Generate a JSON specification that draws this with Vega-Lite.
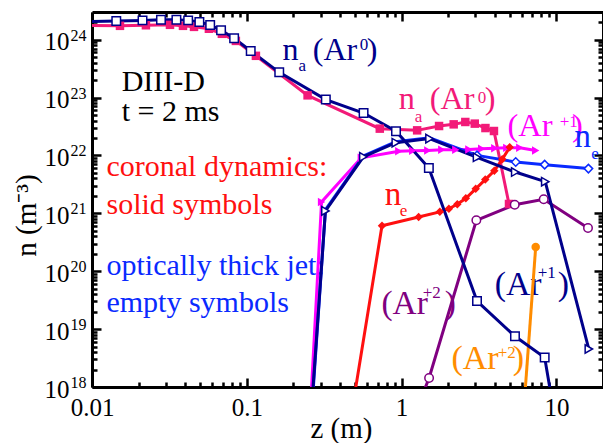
{
  "$schema": "https://vega.github.io/schema/vega-lite/v6.json",
  "width": 511,
  "height": 375,
  "autosize": {"type": "none"},
  "padding": {"left": 92, "top": 12, "right": 0, "bottom": 56},
  "background": "white",
  "config": {
    "font": "'Liberation Serif', 'Times New Roman', Times, serif",
    "view": {"stroke": null},
    "text": {"font": "'Liberation Serif', 'Times New Roman', Times, serif"},
    "axis": {
      "domainColor": "black", "domainWidth": 3,
      "tickColor": "black", "tickWidth": 2.5, "grid": false,
      "labelFont": "'Liberation Serif', 'Times New Roman', Times, serif", "labelFontSize": 25, "labelColor": "black",
      "labelFlush": false, "labelOverlap": false, "labelBound": false,
      "titleFont": "'Liberation Serif', 'Times New Roman', Times, serif", "titleFontSize": 29, "titleFontWeight": "normal", "titleColor": "black",
      "zindex": 1
    }
  },
  "datasets": {
    "pts": [
      {"s": "na_cd", "z": 0.009, "n": 1.75e24},
      {"s": "na_cd", "z": 0.01516, "n": 1.73e24},
      {"s": "na_cd", "z": 0.0223, "n": 1.77e24},
      {"s": "na_cd", "z": 0.0319, "n": 1.80e24},
      {"s": "na_cd", "z": 0.0387, "n": 1.73e24},
      {"s": "na_cd", "z": 0.0456, "n": 1.66e24},
      {"s": "na_cd", "z": 0.0569, "n": 1.54e24},
      {"s": "na_cd", "z": 0.069, "n": 1.26e24},
      {"s": "na_cd", "z": 0.085, "n": 9.5e23},
      {"s": "na_cd", "z": 0.1145, "n": 5.25e23},
      {"s": "na_cd", "z": 0.247, "n": 1.09e23},
      {"s": "na_cd", "z": 0.723, "n": 2.90e22},
      {"s": "na_cd", "z": 1.26, "n": 2.71e22},
      {"s": "na_cd", "z": 1.746, "n": 3.22e22},
      {"s": "na_cd", "z": 2.17, "n": 3.44e22},
      {"s": "na_cd", "z": 2.58, "n": 3.78e22},
      {"s": "na_cd", "z": 2.97, "n": 3.54e22},
      {"s": "na_cd", "z": 3.48, "n": 2.97e22},
      {"s": "na_cd", "z": 3.95, "n": 2.64e22},
      {"s": "na_cd", "z": 4.94, "n": 1.45e21},

      {"s": "ar1_cd", "z": 0.252, "n": 1.4e17},
      {"s": "ar1_cd", "z": 0.304, "n": 1.57e21},
      {"s": "ar1_cd", "z": 0.549, "n": 9.1e21},
      {"s": "ar1_cd", "z": 0.959, "n": 1.18e22},
      {"s": "ar1_cd", "z": 1.18, "n": 1.20e22},
      {"s": "ar1_cd", "z": 1.476, "n": 1.22e22},
      {"s": "ar1_cd", "z": 1.818, "n": 1.25e22},
      {"s": "ar1_cd", "z": 2.24, "n": 1.25e22},
      {"s": "ar1_cd", "z": 2.72, "n": 1.27e22},
      {"s": "ar1_cd", "z": 3.29, "n": 1.30e22},
      {"s": "ar1_cd", "z": 4.0, "n": 1.33e22},
      {"s": "ar1_cd", "z": 4.78, "n": 1.35e22},
      {"s": "ar1_cd", "z": 5.8, "n": 1.36e22},
      {"s": "ar1_cd", "z": 7.35, "n": 1.22e22},

      {"s": "ne_cd", "z": 0.463, "n": 2.3e17},
      {"s": "ne_cd", "z": 0.747, "n": 6.08e20},
      {"s": "ne_cd", "z": 1.288, "n": 8.63e20},
      {"s": "ne_cd", "z": 1.765, "n": 1.06e21},
      {"s": "ne_cd", "z": 2.02, "n": 1.20e21},
      {"s": "ne_cd", "z": 2.29, "n": 1.43e21},
      {"s": "ne_cd", "z": 2.6, "n": 1.82e21},
      {"s": "ne_cd", "z": 3.01, "n": 2.65e21},
      {"s": "ne_cd", "z": 3.47, "n": 3.82e21},
      {"s": "ne_cd", "z": 3.97, "n": 5.42e21},
      {"s": "ne_cd", "z": 4.47, "n": 8.57e21},
      {"s": "ne_cd", "z": 4.99, "n": 1.38e22},

      {"s": "ar2_cd", "z": 5.97, "n": 1.35e17},
      {"s": "ar2_cd", "z": 7.35, "n": 2.62e20},

      {"s": "ar2_jet", "z": 1.31, "n": 5.6e17},
      {"s": "ar2_jet", "z": 1.505, "n": 1.43e18},
      {"s": "ar2_jet", "z": 3.04, "n": 7.57e20},
      {"s": "ar2_jet", "z": 5.38, "n": 1.41e21},
      {"s": "ar2_jet", "z": 8.28, "n": 1.75e21},
      {"s": "ar2_jet", "z": 16.0, "n": 5.57e20},

      {"s": "ne_jet", "z": 0.257, "n": 1.6e17},
      {"s": "ne_jet", "z": 0.322, "n": 1.15e21},
      {"s": "ne_jet", "z": 0.566, "n": 9.8e21},
      {"s": "ne_jet", "z": 0.917, "n": 1.72e22},
      {"s": "ne_jet", "z": 1.514, "n": 2.02e22},
      {"s": "ne_jet", "z": 3.07, "n": 1.0e22},
      {"s": "ne_jet", "z": 5.46, "n": 7.69e21},
      {"s": "ne_jet", "z": 8.4, "n": 6.93e21},
      {"s": "ne_jet", "z": 16.1, "n": 5.92e21},

      {"s": "ar1_jet", "z": 0.255, "n": 1.5e17},
      {"s": "ar1_jet", "z": 0.322, "n": 1.10e21},
      {"s": "ar1_jet", "z": 0.566, "n": 9.46e21},
      {"s": "ar1_jet", "z": 0.917, "n": 1.66e22},
      {"s": "ar1_jet", "z": 1.514, "n": 1.95e22},
      {"s": "ar1_jet", "z": 3.07, "n": 9.27e21},
      {"s": "ar1_jet", "z": 5.42, "n": 5.16e21},
      {"s": "ar1_jet", "z": 8.47, "n": 3.52e21},
      {"s": "ar1_jet", "z": 16.2, "n": 4.53e18},

      {"s": "na_jet", "z": 0.009, "n": 2.05e24},
      {"s": "na_jet", "z": 0.01435, "n": 2.09e24},
      {"s": "na_jet", "z": 0.0212, "n": 2.15e24},
      {"s": "na_jet", "z": 0.0279, "n": 2.21e24},
      {"s": "na_jet", "z": 0.0351, "n": 2.21e24},
      {"s": "na_jet", "z": 0.0418, "n": 2.15e24},
      {"s": "na_jet", "z": 0.0494, "n": 2.01e24},
      {"s": "na_jet", "z": 0.058, "n": 1.79e24},
      {"s": "na_jet", "z": 0.0682, "n": 1.45e24},
      {"s": "na_jet", "z": 0.0828, "n": 1.06e24},
      {"s": "na_jet", "z": 0.106, "n": 6.35e23},
      {"s": "na_jet", "z": 0.162, "n": 2.72e23},
      {"s": "na_jet", "z": 0.324, "n": 9.2e22},
      {"s": "na_jet", "z": 0.568, "n": 5.4e22},
      {"s": "na_jet", "z": 0.92, "n": 2.61e22},
      {"s": "na_jet", "z": 1.5, "n": 6.05e21},
      {"s": "na_jet", "z": 3.07, "n": 3.05e19},
      {"s": "na_jet", "z": 5.4, "n": 7.5e18},
      {"s": "na_jet", "z": 8.4, "n": 3.22e18},
      {"s": "na_jet", "z": 10.0, "n": 2.1e17}
    ],
    "lab": [
      {"s": "info", "r": "note", "z": 0.01555, "n": 1.29e23, "t": "DIII-D"},
      {"s": "info", "r": "note", "z": 0.01555, "n": 3.93e22, "t": "t = 2 ms"},
      {"s": "ne_cd", "r": "note", "z": 0.0124, "n": 4.45e21, "t": "coronal dynamics:"},
      {"s": "ne_cd", "r": "note", "z": 0.0124, "n": 9.89e20, "t": "solid symbols"},
      {"s": "ne_jet", "r": "note", "z": 0.0124, "n": 8.49e19, "t": "optically thick jet:"},
      {"s": "ne_jet", "r": "note", "z": 0.0124, "n": 1.97e19, "t": "empty symbols"},

      {"s": "na_jet", "r": "name", "z": 0.1702, "n": 4.52e23, "t": "n"},
      {"s": "na_jet", "r": "script", "z": 0.2154, "n": 2.84e23, "t": "a"},
      {"s": "na_jet", "r": "name", "z": 0.267, "n": 4.52e23, "t": "(Ar"},
      {"s": "na_jet", "r": "script", "z": 0.537, "n": 6.53e23, "t": "0"},
      {"s": "na_jet", "r": "name", "z": 0.596, "n": 4.52e23, "t": ")"},

      {"s": "na_cd", "r": "name", "z": 0.959, "n": 6.43e22, "t": "n"},
      {"s": "na_cd", "r": "script", "z": 1.217, "n": 3.78e22, "t": "a"},
      {"s": "na_cd", "r": "name", "z": 1.521, "n": 6.43e22, "t": "(Ar"},
      {"s": "na_cd", "r": "script", "z": 3.10, "n": 7.94e22, "t": "0"},
      {"s": "na_cd", "r": "name", "z": 3.45, "n": 6.43e22, "t": ")"},

      {"s": "ar1_cd", "r": "name", "z": 4.83, "n": 2.18e22, "t": "(Ar"},
      {"s": "ar1_cd", "r": "script", "z": 10.5, "n": 3.10e22, "t": "+1"},
      {"s": "ar1_cd", "r": "name", "z": 12.6, "n": 2.18e22, "t": ")"},

      {"s": "ne_jet", "r": "name", "z": 13.1, "n": 1.40e22, "t": "n"},
      {"s": "ne_jet", "r": "script", "z": 16.77, "n": 8.81e21, "t": "e"},

      {"s": "ne_cd", "r": "name", "z": 0.779, "n": 1.41e21, "t": "n"},
      {"s": "ne_cd", "r": "script", "z": 0.974, "n": 8.87e20, "t": "e"},

      {"s": "ar2_jet", "r": "name", "z": 0.741, "n": 1.85e19, "t": "(Ar"},
      {"s": "ar2_jet", "r": "script", "z": 1.37, "n": 3.40e19, "t": "+2"},
      {"s": "ar2_jet", "r": "name", "z": 1.9, "n": 1.85e19, "t": ")"},

      {"s": "ar1_jet", "r": "name", "z": 4.0, "n": 3.84e19, "t": "(Ar"},
      {"s": "ar1_jet", "r": "script", "z": 7.57, "n": 7.54e19, "t": "+1"},
      {"s": "ar1_jet", "r": "name", "z": 10.2, "n": 3.84e19, "t": ")"},

      {"s": "ar2_cd", "r": "name", "z": 2.10, "n": 2.08e18, "t": "(Ar"},
      {"s": "ar2_cd", "r": "script", "z": 4.18, "n": 3.13e18, "t": "+2"},
      {"s": "ar2_cd", "r": "name", "z": 5.22, "n": 2.08e18, "t": ")"}
    ]
  },
  "layer": [
    {
      "data": {"name": "lab"},
      "transform": [{"filter": "datum.r == 'note'"}],
      "mark": {"type": "text", "align": "left", "baseline": "alphabetic", "fontSize": 30},
      "encoding": {
        "x": {"field": "z", "type": "quantitative", "scale": {"type": "log", "domain": [0.01, 20], "nice": false},
              "axis": {"orient": "top", "values": [0.02,0.03,0.04,0.05,0.06,0.07,0.08,0.09,0.2,0.3,0.4,0.5,0.6,0.7,0.8,0.9,2,3,4,5,6,7,8,9], "labels": false, "domain": false, "tickSize": -5, "title": null}},
        "y": {"field": "n", "type": "quantitative", "scale": {"type": "log", "domain": [1e18, 3e24], "nice": false},
              "axis": {"orient": "right", "values": [1e18,1e19,1e20,1e21,1e22,1e23,1e24], "labels": false, "domain": true, "tickSize": -9, "title": null}},
        "text": {"field": "t"},
        "color": {"field": "s", "type": "nominal", "legend": null,
                  "scale": {"domain": ["na_cd","ar1_cd","ne_cd","ar2_cd","ar2_jet","ne_jet","ar1_jet","na_jet","info"],
                            "range": ["#f21a78","#ff00ff","#ff1010","#ff8c00","#800080","#0a2aff","#00008b","#00008b","#000000"]}}
      }
    },
    {
      "data": {"name": "lab"},
      "transform": [{"filter": "datum.r == 'name'"}],
      "mark": {"type": "text", "align": "left", "baseline": "alphabetic"},
      "encoding": {
        "x": {"field": "z", "type": "quantitative", "scale": {"type": "log", "domain": [0.01, 20], "nice": false},
              "axis": {"orient": "top", "values": [0.01, 0.1, 1, 10], "labels": false, "domain": true, "tickSize": -9, "title": null}},
        "y": {"field": "n", "type": "quantitative", "scale": {"type": "log", "domain": [1e18, 3e24], "nice": false},
              "axis": {"orient": "right", "values": [2e18,3e18,4e18,5e18,6e18,7e18,8e18,9e18,2e19,3e19,4e19,5e19,6e19,7e19,8e19,9e19,2e20,3e20,4e20,5e20,6e20,7e20,8e20,9e20,2e21,3e21,4e21,5e21,6e21,7e21,8e21,9e21,2e22,3e22,4e22,5e22,6e22,7e22,8e22,9e22,2e23,3e23,4e23,5e23,6e23,7e23,8e23,9e23,2e24], "labels": false, "domain": false, "tickSize": -5, "title": null}},
        "text": {"field": "t"},
        "size": {"field": "s", "type": "nominal", "legend": null,
                 "scale": {"domain": ["na_jet","na_cd","ar1_cd","ne_jet","ne_cd","ar2_jet","ar1_jet","ar2_cd"],
                           "range": [32, 34, 34, 31, 31, 27, 32, 32]}},
        "color": {"field": "s", "type": "nominal", "legend": null,
                  "scale": {"domain": ["na_cd","ar1_cd","ne_cd","ar2_cd","ar2_jet","ne_jet","ar1_jet","na_jet","info"],
                            "range": ["#f21a78","#ff00ff","#ff1010","#ff8c00","#800080","#0a2aff","#00008b","#00008b","#000000"]}}
      }
    },
    {
      "data": {"name": "lab"},
      "transform": [{"filter": "datum.r == 'script'"}],
      "mark": {"type": "text", "align": "left", "baseline": "alphabetic", "fontSize": 17},
      "encoding": {
        "x": {"field": "z", "type": "quantitative", "scale": {"type": "log", "domain": [0.01, 20], "nice": false}, "axis": null},
        "y": {"field": "n", "type": "quantitative", "scale": {"type": "log", "domain": [1e18, 3e24], "nice": false},
              "axis": {"orient": "left", "values": [2e18,3e18,4e18,5e18,6e18,7e18,8e18,9e18,2e19,3e19,4e19,5e19,6e19,7e19,8e19,9e19,2e20,3e20,4e20,5e20,6e20,7e20,8e20,9e20,2e21,3e21,4e21,5e21,6e21,7e21,8e21,9e21,2e22,3e22,4e22,5e22,6e22,7e22,8e22,9e22,2e23,3e23,4e23,5e23,6e23,7e23,8e23,9e23,2e24], "labels": false, "domain": false, "tickSize": -5, "title": null}},
        "text": {"field": "t"},
        "color": {"field": "s", "type": "nominal", "legend": null,
                  "scale": {"domain": ["na_cd","ar1_cd","ne_cd","ar2_cd","ar2_jet","ne_jet","ar1_jet","na_jet","info"],
                            "range": ["#f21a78","#ff00ff","#ff1010","#ff8c00","#800080","#0a2aff","#00008b","#00008b","#000000"]}}
      }
    },
    {
      "data": {"name": "pts"},
      "mark": {"type": "line", "strokeWidth": 3, "clip": true},
      "encoding": {
        "x": {"field": "z", "type": "quantitative", "scale": {"type": "log", "domain": [0.01, 20], "nice": false},
              "axis": {"orient": "bottom", "values": [0.01, 0.1, 1, 10], "format": "~g", "tickSize": -9, "labelPadding": 17.5,
                       "title": "z  (m)", "titleX": 249, "titleY": 50, "titleBaseline": "alphabetic"}},
        "y": {"field": "n", "type": "quantitative", "scale": {"type": "log", "domain": [1e18, 3e24], "nice": false},
              "axis": {"orient": "left", "values": [1e18,1e19,1e20,1e21,1e22,1e23,1e24], "labelExpr": "'10'", "tickSize": -9, "labelPadding": 32, "labelOffset": 2,
                       "title": "n  (m⁻³)", "titleX": -57, "titleY": 203, "titleBaseline": "alphabetic"}},
        "color": {"field": "s", "type": "nominal", "legend": null,
                  "scale": {"domain": ["na_cd","ar1_cd","ne_cd","ar2_cd","ar2_jet","ne_jet","ar1_jet","na_jet","info"],
                            "range": ["#f21a78","#ff00ff","#ff1010","#ff8c00","#800080","#0a2aff","#00008b","#00008b","#000000"]}}
      }
    },
    {
      "data": {"name": "pts"},
      "transform": [{"filter": "indexof(['na_cd','ar1_cd','ne_cd','ar2_cd'], datum.s) >= 0"}],
      "mark": {"type": "point", "filled": true, "opacity": 1, "size": 72, "clip": true},
      "encoding": {
        "x": {"field": "z", "type": "quantitative", "scale": {"type": "log", "domain": [0.01, 20], "nice": false},
              "axis": {"orient": "bottom", "values": [0.02,0.03,0.04,0.05,0.06,0.07,0.08,0.09,0.2,0.3,0.4,0.5,0.6,0.7,0.8,0.9,2,3,4,5,6,7,8,9], "labels": false, "domain": false, "tickSize": -5, "title": null}},
        "y": {"field": "n", "type": "quantitative", "scale": {"type": "log", "domain": [1e18, 3e24], "nice": false},
              "axis": {"orient": "left", "values": [1e18,1e19,1e20,1e21,1e22,1e23,1e24], "ticks": false, "domain": false,
                       "labelExpr": "'' + round(log(datum.value) / LN10)", "labelFontSize": 16, "labelPadding": 6, "labelOffset": -4.5, "title": null}},
        "color": {"field": "s", "type": "nominal", "legend": null,
                  "scale": {"domain": ["na_cd","ar1_cd","ne_cd","ar2_cd","ar2_jet","ne_jet","ar1_jet","na_jet","info"],
                            "range": ["#f21a78","#ff00ff","#ff1010","#ff8c00","#800080","#0a2aff","#00008b","#00008b","#000000"]}},
        "shape": {"field": "s", "type": "nominal", "legend": null,
                  "scale": {"domain": ["na_cd","ar1_cd","ne_cd","ar2_cd","ar2_jet","ne_jet","ar1_jet","na_jet"],
                            "range": ["square","triangle-right","diamond","circle","circle","diamond","triangle-right","square"]}}
      }
    },
    {
      "data": {"name": "pts"},
      "transform": [{"filter": "datum.s == 'ar2_jet' || datum.s == 'ar1_jet' || datum.s == 'na_jet' || (datum.s == 'ne_jet' && datum.z > 2)"}],
      "mark": {"type": "point", "filled": true, "fill": "white", "strokeWidth": 1.5, "opacity": 1, "size": 72, "clip": true},
      "encoding": {
        "x": {"field": "z", "type": "quantitative", "scale": {"type": "log", "domain": [0.01, 20], "nice": false}, "axis": null},
        "y": {"field": "n", "type": "quantitative", "scale": {"type": "log", "domain": [1e18, 3e24], "nice": false}, "axis": null},
        "stroke": {"field": "s", "type": "nominal", "legend": null,
                   "scale": {"domain": ["ar2_jet","ne_jet","ar1_jet","na_jet"], "range": ["#800080","#0a2aff","#00008b","#00008b"]}},
        "shape": {"field": "s", "type": "nominal", "legend": null,
                  "scale": {"domain": ["na_cd","ar1_cd","ne_cd","ar2_cd","ar2_jet","ne_jet","ar1_jet","na_jet"],
                            "range": ["square","triangle-right","diamond","circle","circle","diamond","triangle-right","square"]}}
      }
    }
  ],
  "resolve": {"axis": {"x": "independent", "y": "independent"}}
}
